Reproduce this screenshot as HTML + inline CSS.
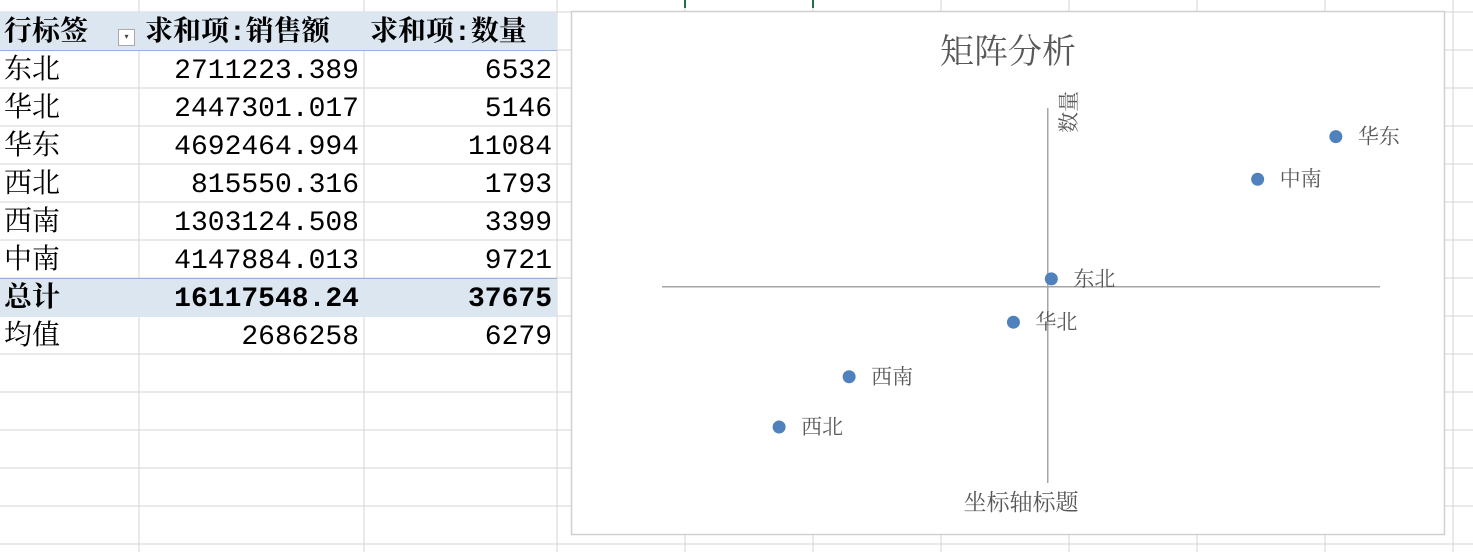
<!DOCTYPE html>
<html><head><meta charset="utf-8"><style>
body{margin:0;width:1473px;height:552px;overflow:hidden;background:#fff;font-family:"Liberation Mono","Noto Serif CJK SC",serif;position:relative}
.c{position:absolute;font-size:28px;line-height:38px;color:#000;white-space:nowrap}
.r{text-align:right}
</style></head><body>
<svg width="1473" height="552" style="position:absolute;left:0;top:0" id="grid"></svg>
<div id="tbl"></div>
<svg id="chart" width="1473" height="552" style="position:absolute;left:0;top:0;font-family:'Liberation Serif','Noto Serif CJK SC',serif"></svg>
<script>
const regions=["东北","华北","华东","西北","西南","中南"];
const sales=[2711223.389,2447301.017,4692464.994,815550.316,1303124.508,4147884.013];
const qty=[6532,5146,11084,1793,3399,9721];
const salesText=["2711223.389","2447301.017","4692464.994","815550.316","1303124.508","4147884.013"];
const totalText=["16117548.24","37675"];
const meanText=["2686258","6279"];
const xDomain=[0,5000000];
const yDomain=[0,12000];
const NS="http://www.w3.org/2000/svg";
function mk(p,t,a){const e=document.createElementNS(NS,t);for(const k in a)e.setAttribute(k,a[k]);p.appendChild(e);return e;}
const g=document.getElementById('grid');
const cols=[139,364,557,685,813,941,1069,1197,1325,1453];
for(const x of cols){const l=mk(g,'line',{x1:x,y1:0,x2:x,y2:552,stroke:'#d4d4d4','stroke-width':1});}
for(let y=12;y<552;y+=38){const l=mk(g,'line',{x1:0,y1:y,x2:1473,y2:y,stroke:'#d4d4d4','stroke-width':1});}
for(const x of [685,813]){const l=mk(g,'line',{x1:x,y1:0,x2:x,y2:8,stroke:'#217346','stroke-width':2});}
const T=document.getElementById('tbl');
let h='';
h+='<div style="position:absolute;left:0;top:12px;width:557px;height:38px;background:#dce6f1;border-bottom:1px solid #95b3d7"></div>';
h+='<div style="position:absolute;left:0;top:278px;width:557px;height:38px;background:#dce6f1;border-top:1px solid #95b3d7"></div>';
h+='<div class="c" style="left:4px;top:15px;font-weight:bold">行标签</div>';
h+='<div style="position:absolute;left:118px;top:29px;width:17px;height:17px;background:#fff;border:1px solid #aaa;box-sizing:border-box;font-size:8px;text-align:center;line-height:15px;color:#444">▾</div>';
h+='<div class="c" style="left:145px;top:15px;font-weight:bold">求和项:销售额</div>';
h+='<div class="c" style="left:370px;top:15px;font-weight:bold">求和项:数量</div>';
regions.forEach((r,i)=>{const y=53+i*38;
h+='<div class="c" style="left:4px;top:'+y+'px">'+r+'</div>';
h+='<div class="c r" style="right:1114px;top:'+y+'px">'+salesText[i]+'</div>';
h+='<div class="c r" style="right:921px;top:'+y+'px">'+qty[i]+'</div>';});
h+='<div class="c" style="left:4px;top:281px;font-weight:bold">总计</div>';
h+='<div class="c r" style="right:1114px;top:281px;font-weight:bold">'+totalText[0]+'</div>';
h+='<div class="c r" style="right:921px;top:281px;font-weight:bold">'+totalText[1]+'</div>';
h+='<div class="c" style="left:4px;top:319px">均值</div>';
h+='<div class="c r" style="right:1114px;top:319px">'+meanText[0]+'</div>';
h+='<div class="c r" style="right:921px;top:319px">'+meanText[1]+'</div>';
T.innerHTML=h;
const C=document.getElementById('chart');
const bg=mk(C,'rect',{x:571.5,y:11.5,width:873,height:523,fill:'#fff',stroke:'#d0d0d0','stroke-width':1.5});

const X0=662,X1=1380,Y0=483,Y1=108;
const sx=v=>X0+(v-xDomain[0])/(xDomain[1]-xDomain[0])*(X1-X0);
const sy=v=>Y0-(v-yDomain[0])/(yDomain[1]-yDomain[0])*(Y0-Y1);
const mx=sales.reduce((a,b)=>a+b)/sales.length, my=qty.reduce((a,b)=>a+b)/qty.length;
const xa=mk(C,'line',{x1:X0,x2:X1,y1:sy(my),y2:sy(my),stroke:'#a6a6a6','stroke-width':1.5});

const ya=mk(C,'line',{x1:sx(mx),x2:sx(mx),y1:Y1,y2:Y0,stroke:'#a6a6a6','stroke-width':1.5});

const t=mk(C,'text',{x:1008,y:63,'text-anchor':'middle','font-size':34,fill:'#595959'});t.textContent='矩阵分析';

const yt=mk(C,'text',{x:0,y:0,'text-anchor':'middle','font-size':21,fill:'#595959',transform:'translate(1076,112) rotate(-90)'});yt.textContent='数量';

const xt=mk(C,'text',{x:1021,y:510,'text-anchor':'middle','font-size':23,fill:'#595959'});xt.textContent='坐标轴标题';

regions.forEach((r,i)=>{
const p=mk(C,'circle',{cx:sx(sales[i]),cy:sy(qty[i]),r:6.5,fill:'#4f81bd'});

const l=mk(C,'text',{x:sx(sales[i])+22,y:sy(qty[i])+7,'font-size':21,fill:'#595959'});l.textContent=r;

});
</script>
</body></html>
